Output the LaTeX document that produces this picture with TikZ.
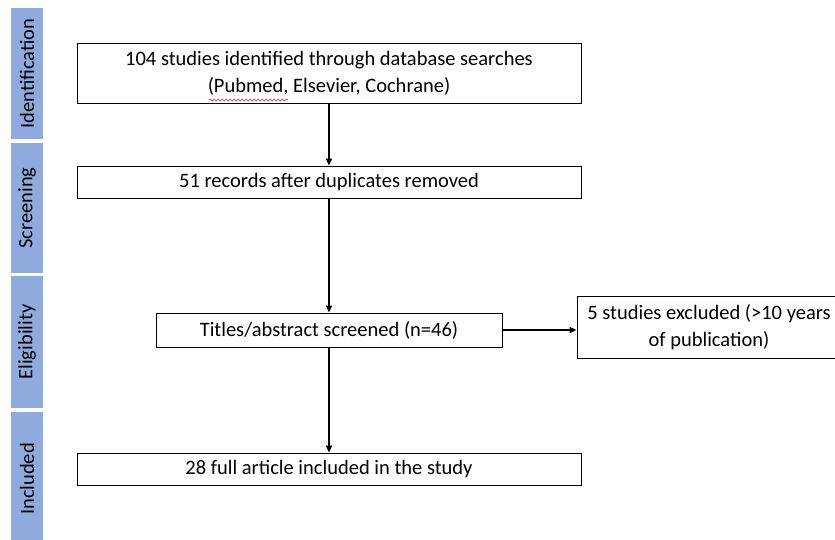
\documentclass[tikz,border=0pt]{standalone}
\usepackage{fontspec}
\setmainfont{Carlito}
\usetikzlibrary{arrows.meta,positioning,decorations.pathmorphing}
\definecolor{stageblue}{HTML}{8FAADC}
\definecolor{squiggle}{HTML}{E02020}

\begin{document}
\begin{tikzpicture}[x=1pt,y=-1pt,
	box/.style={draw, line width=0.8pt, fill=white, align=center, inner sep=0pt, font=\fontsize{20.5}{27}\selectfont},
	stage/.style={fill=stageblue, rotate=90, inner sep=0pt, minimum height=32, font=\fontsize{20.5}{24}\selectfont},
	flow/.style={-{Triangle[length=7pt,width=6pt]}, line width=1.8pt}]
	\useasboundingbox (0,0) rectangle (835,540);
	\clip (0,0) rectangle (835,540);
	% 
	\node[stage, minimum width=131] (ident) at (27,73.5) {Identification};
	\node[stage, minimum width=130] (screen) at (27,208) {Screening};
	\node[stage, minimum width=132] (elig) at (27,342) {Eligibility};
	\node[stage, minimum width=134] (incl) at (27,479) {Included};
	% 
	\node[box, minimum width=504, minimum height=60] (search) at (329,73) {104 studies identified through database searches\\(Pubmed, Elsevier, Cochrane)};
	\node[box, minimum width=504, minimum height=32] (dedup) at (329,182) {51 records after duplicates removed};
	\node[box, minimum width=346, minimum height=34] (titles) at (329,330) {Titles/abstract screened (n=46)};
	\node[box, minimum width=264, minimum height=62] (excl) at (709,327) {5 studies excluded (>10 years\\of publication)};
	\node[box, minimum width=504, minimum height=32] (incd) at (329,469) {28 full article included in the study};
	% 
	\draw[flow] (search) -- (dedup);
	\draw[flow] (dedup) -- (titles);
	\draw[flow] (titles) -- (titles -| excl.west);
	\draw[flow] (titles) -- (incd);
	% 
	\draw[squiggle, line width=0.6pt, decorate, decoration={snake, amplitude=1pt, segment length=4pt}] (209,100) -- (288,100);
\end{tikzpicture}
\end{document}
